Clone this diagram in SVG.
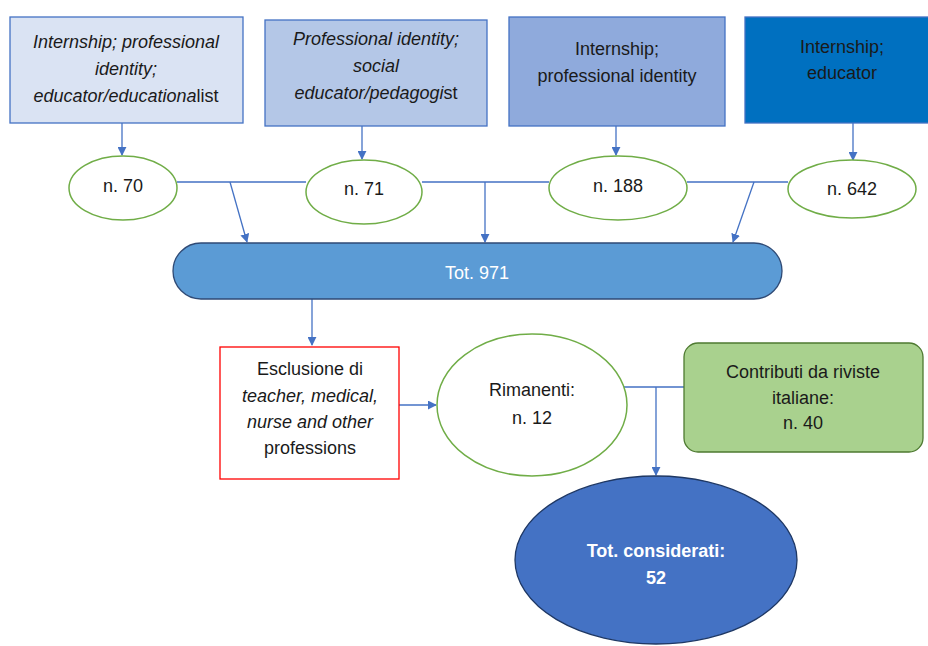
<svg xmlns="http://www.w3.org/2000/svg" width="928" height="646" viewBox="0 0 928 646">
<style>
text{font-family:"Liberation Sans",Arial,sans-serif;font-size:18px;fill:#1a1a1a;text-anchor:middle}
.i{font-style:italic}
.n{font-style:normal}
.w{fill:#ffffff}
.b{font-weight:bold}
.box{stroke:#4472c4;stroke-width:1.3}
.ell{fill:#ffffff;stroke:#70ad47;stroke-width:1.5}
.c{fill:none;stroke:#4472c4;stroke-width:1.3}
</style>
<defs>
<marker id="a" viewBox="0 0 10 10" refX="9" refY="5" markerWidth="9" markerHeight="9" markerUnits="userSpaceOnUse" orient="auto">
<path d="M0,0 L10,5 L0,10 z" fill="#4472c4"/>
</marker>
</defs>
<rect width="928" height="646" fill="#ffffff"/>
<g id="connectors">
<path class="c" d="M122,123 V155" marker-end="url(#a)"/>
<path class="c" d="M362,126 V159" marker-end="url(#a)"/>
<path class="c" d="M616,126 V155" marker-end="url(#a)"/>
<path class="c" d="M853,123 V160" marker-end="url(#a)"/>
<path class="c" d="M177,182 H306 M422,182 H549 M687,182 H788"/>
<path class="c" d="M230,182 L247,242" marker-end="url(#a)"/>
<path class="c" d="M485,182 V242" marker-end="url(#a)"/>
<path class="c" d="M754,182 L733,242" marker-end="url(#a)"/>
<path class="c" d="M312,299 V345" marker-end="url(#a)"/>
<path class="c" d="M399,405 H436" marker-end="url(#a)"/>
<path class="c" d="M624,387 H684 M656,387 V475" marker-end="url(#a)"/>
</g>
<g id="box1">
<rect class="box" x="10" y="17" width="233" height="106" fill="#dae3f3"/>
<text class="i" x="126" y="48">Internship; professional</text>
<text class="i" x="126" y="75">identity;</text>
<text class="i" x="126" y="102">educator/educationa<tspan class="n">list</tspan></text>
</g>
<g id="box2">
<rect class="box" x="265" y="20" width="222" height="106" fill="#b4c7e7"/>
<text class="i" x="376" y="45">Professional identity;</text>
<text class="i" x="376" y="72">social</text>
<text class="i" x="376" y="99">educator/pedagogi<tspan class="n">st</tspan></text>
</g>
<g id="box3">
<rect class="box" x="509" y="17" width="216" height="109" fill="#8faadc"/>
<text x="617" y="55">Internship;</text>
<text x="617" y="82">professional identity</text>
</g>
<g id="box4">
<rect class="box" x="745" y="17" width="190" height="106" fill="#0070c0"/>
<text x="842" y="53">Internship;</text>
<text x="842" y="79">educator</text>
</g>
<g id="n70">
<ellipse class="ell" cx="123" cy="188" rx="54" ry="32"/>
<text x="123" y="192">n. 70</text>
</g>
<g id="n71">
<ellipse class="ell" cx="364" cy="192" rx="58" ry="32"/>
<text x="364" y="195">n. 71</text>
</g>
<g id="n188">
<ellipse class="ell" cx="618" cy="188" rx="69" ry="32"/>
<text x="618" y="192">n. 188</text>
</g>
<g id="n642">
<ellipse class="ell" cx="852" cy="189" rx="64" ry="29"/>
<text x="852" y="195">n. 642</text>
</g>
<g id="tot971">
<rect x="173" y="243" width="609" height="56" rx="28" ry="28" fill="#5b9bd5" stroke="#2f4a75" stroke-width="1.3"/>
<text class="w" x="477" y="279">Tot. 971</text>
</g>
<g id="esclusione">
<rect x="220" y="347" width="179" height="132" fill="#ffffff" stroke="#ff0000" stroke-width="1.3"/>
<text x="310" y="375">Esclusione di</text>
<text class="i" x="310" y="402">teacher, medical,</text>
<text class="i" x="310" y="428">nurse and other</text>
<text x="310" y="454">professions</text>
</g>
<g id="rimanenti">
<ellipse class="ell" cx="532" cy="405" rx="95" ry="71"/>
<text x="532" y="396">Rimanenti:</text>
<text x="532" y="424">n. 12</text>
</g>
<g id="contributi">
<rect x="684" y="343" width="239" height="109" rx="14" ry="14" fill="#a9d18e" stroke="#4e7a31" stroke-width="1.3"/>
<text x="803" y="378">Contributi da riviste</text>
<text x="803" y="404">italiane:</text>
<text x="803" y="429">n. 40</text>
</g>
<g id="considerati">
<ellipse cx="656" cy="560" rx="141" ry="84" fill="#4472c4" stroke="#1f3864" stroke-width="1.3"/>
<text class="w b" x="656" y="557">Tot. considerati:</text>
<text class="w b" x="656" y="584">52</text>
</g>
</svg>
